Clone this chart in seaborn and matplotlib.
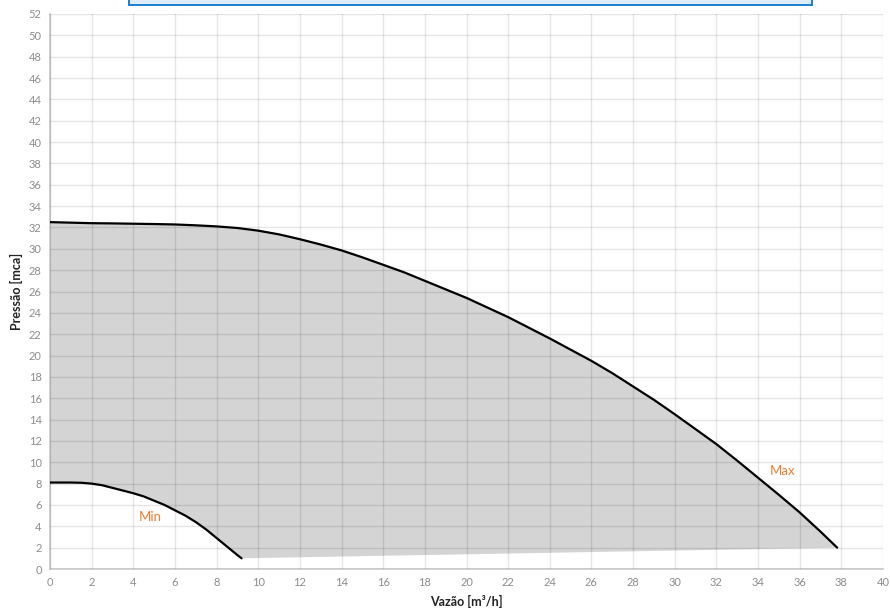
import numpy as np
import matplotlib
matplotlib.use('Agg')
import matplotlib.pyplot as plt
import seaborn as sns
from matplotlib.patches import Rectangle

# ---- data ----
max_x = [0, 1, 2, 3, 4, 5, 6, 7, 8, 9, 10, 11, 12, 13, 14, 15, 16, 17, 18, 19,
         20, 21, 22, 23, 24, 25, 26, 27, 28, 29, 30, 31, 32, 33, 34, 35, 36, 37, 37.8]
max_y = [32.5, 32.45, 32.4, 32.38, 32.35, 32.32, 32.28, 32.2, 32.1, 31.95, 31.7,
         31.35, 30.9, 30.4, 29.85, 29.2, 28.5, 27.8, 27.0, 26.2, 25.4, 24.5, 23.6,
         22.6, 21.6, 20.55, 19.5, 18.35, 17.1, 15.85, 14.5, 13.1, 11.7, 10.15,
         8.55, 6.95, 5.3, 3.5, 2.0]
min_x = [0, 0.5, 1, 1.5, 2, 2.5, 3, 3.5, 4, 4.5, 5, 5.5, 6, 6.5, 7, 7.5, 8, 8.5, 9, 9.2]
min_y = [8.1, 8.1, 8.1, 8.08, 8.0, 7.85, 7.6, 7.35, 7.1, 6.8, 6.4, 6.0, 5.5, 5.0,
         4.4, 3.7, 2.9, 2.1, 1.3, 1.0]
base_x = [9.2, 37.8]
base_y = [1.0, 2.0]

x_ticks = list(range(0, 41, 2))
y_ticks = list(range(0, 53, 2))

sns.set_style('white')
plt.rcParams['font.family'] = ['Lato', 'DejaVu Sans']

fig = plt.figure(figsize=(8.9, 6.12), dpi=100)
ax = fig.add_axes([50/890, 1 - 569/612, 833/890, 555/612])

# shaded operating region
poly_x = max_x + base_x[::-1] + min_x[::-1]
poly_y = max_y + base_y[::-1] + min_y[::-1]
ax.fill(poly_x, poly_y, color='#d4d4d4', lw=0, zorder=1)

sns.lineplot(x=max_x, y=max_y, ax=ax, color='black', lw=1.6, zorder=3)
sns.lineplot(x=min_x, y=min_y, ax=ax, color='black', lw=1.6, zorder=3)

ax.text(4.8, 4.9, 'Min', color='#ED7D31', fontsize=9.5, ha='center', va='center')
ax.text(35.2, 9.2, 'Max', color='#ED7D31', fontsize=9.5, ha='center', va='center')

ax.set_xlim(0, 40)
ax.set_ylim(0, 52)
ax.set_xticks(x_ticks)
ax.set_yticks(y_ticks)
ax.set_axisbelow(False)
ax.grid(True, color='black', alpha=0.1, lw=1, zorder=2)
ax.tick_params(axis='both', labelsize=8, colors='#8c8c8c', length=0, pad=6)

for s in ['top', 'right']:
    ax.spines[s].set_visible(False)
for s in ['left', 'bottom']:
    ax.spines[s].set_color('#c8c8c8')
    ax.spines[s].set_linewidth(1.2)

ax.set_xlabel('Vazão [m³/h]', fontsize=9, fontweight='bold', color='#222222', labelpad=5)
ax.set_ylabel('Pressão [mca]', fontsize=9, fontweight='bold', color='#222222', labelpad=4)

# cut-off title box at the top
fig.patches.append(Rectangle((129/890, 1 - 4.5/612), 683/890, 0.05,
                             transform=fig.transFigure, facecolor='#dcecf9',
                             edgecolor='#1a7fcf', lw=1.4, zorder=0))

fig.savefig('out.png', dpi=100)
